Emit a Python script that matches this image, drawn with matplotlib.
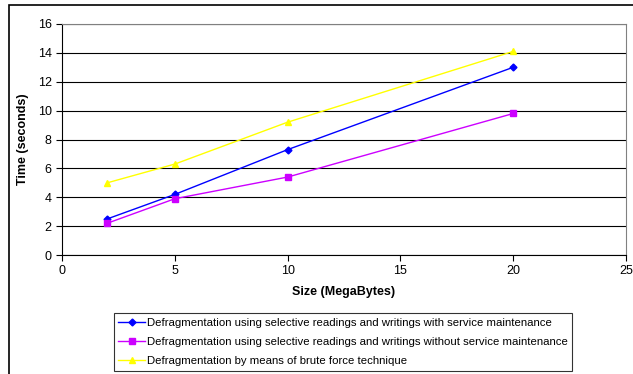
import matplotlib
matplotlib.use("Agg")
import matplotlib.pyplot as plt
from matplotlib.patches import Rectangle

plt.rcParams['font.family'] = ['Liberation Sans', 'DejaVu Sans']

sizes = [2, 5, 10, 20]
with_maint = [2.5, 4.2, 7.3, 13.0]
without_maint = [2.2, 3.9, 5.4, 9.8]
brute_force = [5.0, 6.3, 9.2, 14.1]
labels = [
    "Defragmentation using selective readings and writings with service maintenance",
    "Defragmentation using selective readings and writings without service maintenance",
    "Defragmentation by means of brute force technique",
]

fig = plt.figure(figsize=(6.33, 3.74), dpi=100)
ax = fig.add_axes([0.098, 0.318, 0.891, 0.618])

ax.plot(sizes, with_maint, color='#0000ff', marker='D', markersize=3.5, lw=1, label=labels[0])
ax.plot(sizes, without_maint, color='#cc00ff', marker='s', markersize=5, lw=1, label=labels[1])
ax.plot(sizes, brute_force, color='#ffff00', marker='^', markersize=5, lw=1, label=labels[2])

ax.set_xlim(0, 25)
ax.set_ylim(0, 16)
ax.set_xticks(range(0, 26, 5))
ax.set_yticks(range(0, 17, 2))
ax.yaxis.grid(True, color='black', lw=0.8)
ax.set_axisbelow(True)
ax.tick_params(labelsize=9, length=4, width=0.8, direction='out')
for side in ['top', 'right']:
    ax.spines[side].set_color('#808080')
for side in ['left', 'bottom']:
    ax.spines[side].set_color('black')

ax.set_xlabel('Size (MegaBytes)', fontsize=9, fontweight='bold', labelpad=6)
ax.set_ylabel('Time (seconds)', fontsize=9, fontweight='bold', labelpad=6)

leg = fig.legend(loc='lower center', bbox_to_anchor=(0.542, 0.0), fontsize=8.2,
                 frameon=True, fancybox=False, handlelength=2.3, borderpad=0.4,
                 labelspacing=0.8, handletextpad=0.2, borderaxespad=0.3)
leg.get_frame().set_edgecolor('black')
leg.get_frame().set_linewidth(0.8)

# outer chart frame
fig.patches.append(Rectangle((9 / 633, -0.1), 1.0, 1 - 5 / 374 + 0.1,
                             transform=fig.transFigure, fill=False,
                             edgecolor='black', lw=1.2))

fig.savefig('out.png', dpi=100)
